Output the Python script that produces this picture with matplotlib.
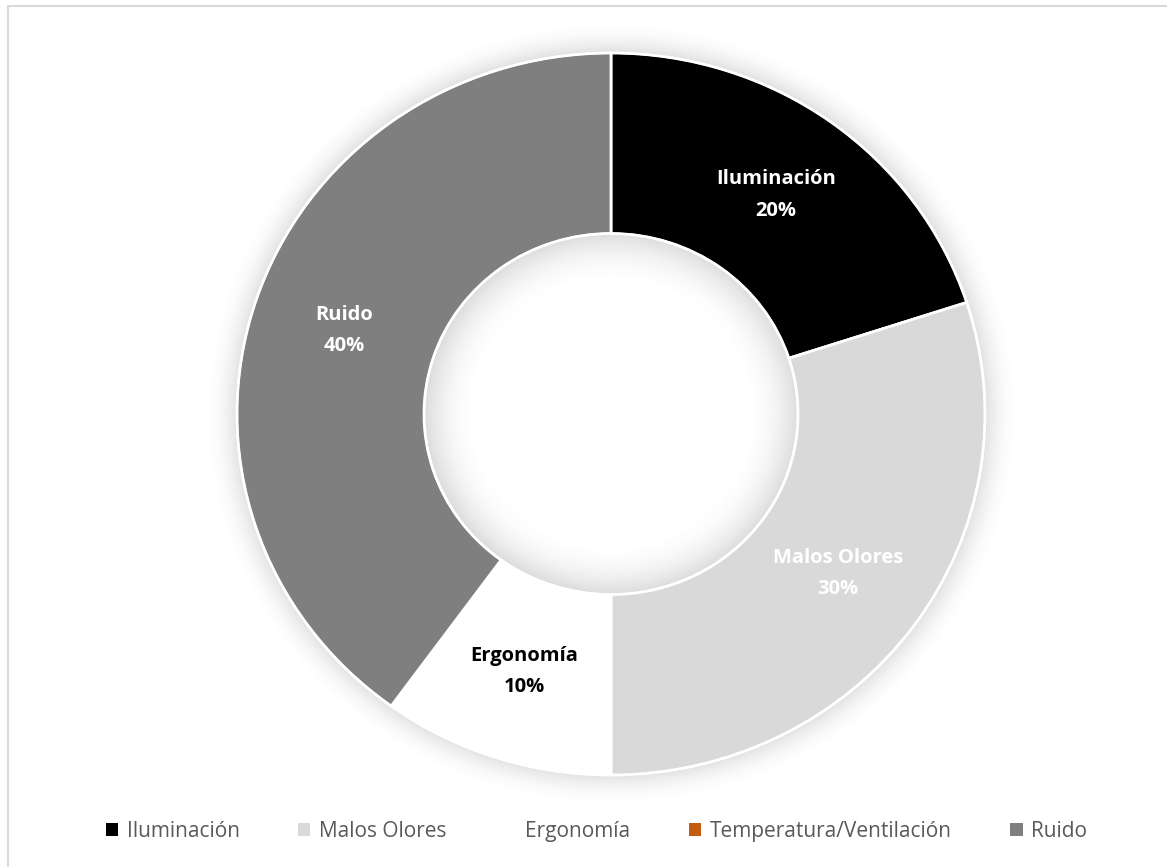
import numpy as np
import matplotlib
matplotlib.use("Agg")
import matplotlib.pyplot as plt
from matplotlib.patches import Patch, Circle
from matplotlib.lines import Line2D

plt.rcParams['font.family'] = ['Open Sans', 'DejaVu Sans']

categorias = ["Iluminación", "Malos Olores", "Ergonomía", "Temperatura/Ventilación", "Ruido"]
porcentajes = [20, 30, 10, 0, 40]
colores = ["#000000", "#d9d9d9", "#ffffff", "#c55a11", "#7f7f7f"]
color_texto = ["white", "white", "black", "black", "white"]

W, H = 1167, 867
fig = plt.figure(figsize=(W / 100, H / 100), dpi=100)

# centro del anillo y radios en pixeles
cx, cy = 611, 414
rx, ry = 374, 361
lim = 1.1
ax = fig.add_axes([(cx - lim * rx) / W, (H - cy - lim * ry) / H,
                   2 * lim * rx / W, 2 * lim * ry / H])

# sombra suave por fuera del anillo y dentro del hueco
xs = np.linspace(-lim, lim, 600)
ys = np.linspace(-lim, lim, 600)
X, Y = np.meshgrid(xs, ys)
R = np.hypot(X, Y)
alpha = np.zeros_like(R)
fuera = (R >= 1.0) & (R < 1.09)
alpha[fuera] = 0.22 * (1 - (R[fuera] - 1.0) / 0.09) ** 2
dentro = (R <= 0.5) & (R > 0.36)
alpha[dentro] = 0.25 * ((R[dentro] - 0.36) / 0.14) ** 2
sombra = np.zeros(R.shape + (4,))
sombra[..., :3] = 0.45
sombra[..., 3] = alpha
ax.imshow(sombra, extent=(-lim, lim, -lim, lim), origin="lower",
          interpolation="bilinear", zorder=0, aspect="auto")

nombres = iter(zip(categorias, porcentajes))


def etiqueta(pct):
    nombre, valor = next(nombres)
    if valor == 0:
        return ""
    return f"{nombre}\n{valor}%"


wedges, textos, autotextos = ax.pie(
    porcentajes, colors=colores, startangle=90, counterclock=False,
    autopct=etiqueta, pctdistance=0.75, radius=1.0,
    wedgeprops=dict(width=0.5, edgecolor="white", linewidth=2),
    textprops=dict(fontsize=14.5, fontweight="bold"))
for t, c in zip(autotextos, color_texto):
    t.set_color(c)
    t.set_linespacing(1.75)
    t.set_zorder(5)

for r in (1.0, 0.5):
    ax.add_patch(Circle((0, 0), r, fill=False, edgecolor="white", linewidth=1.5, zorder=3))

ax.set_aspect("auto")
ax.set_xlim(-lim, lim)
ax.set_ylim(-lim, lim)
ax.axis("off")

handles = [Patch(facecolor=c, edgecolor="none") for c in colores]
fig.legend(handles, categorias, loc="center", bbox_to_anchor=(0.511, 0.0415),
           ncol=5, frameon=False, fontsize=15, labelcolor="#595959",
           handlelength=0.6, handleheight=0.6, handletextpad=0.4, columnspacing=2.8)

# marco del grafico
borde = "#d9d9d9"
fig.add_artist(Line2D([8 / W, 8 / W], [0, 1 - 6 / H], color=borde, linewidth=1.5))
fig.add_artist(Line2D([8 / W, 1], [1 - 6 / H, 1 - 6 / H], color=borde, linewidth=1.5))

fig.savefig("out.png", dpi=100, facecolor="white")
